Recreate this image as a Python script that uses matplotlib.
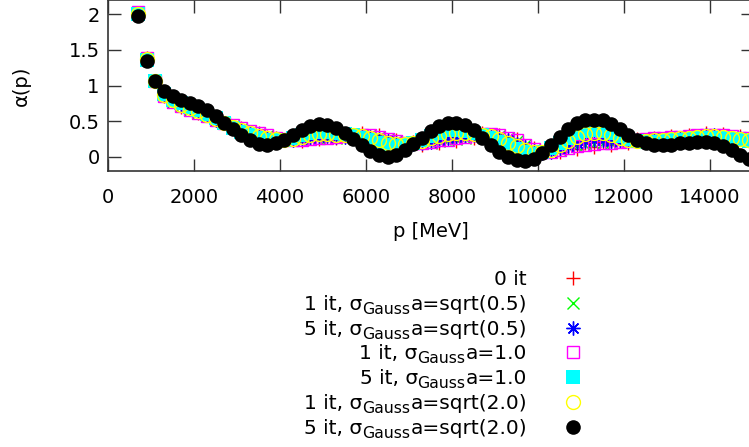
import numpy as np
import matplotlib
matplotlib.use("Agg")
import matplotlib.pyplot as plt
from matplotlib.lines import Line2D

plt.rcParams['font.family'] = ['DejaVu Sans']

# momentum grid [MeV]
p = np.arange(700, 15000, 200)

# alpha(p) for each smoothing variant (12 values per row)
alpha_0it = [2.02, 1.39, 1.06, 0.85, 0.78, 0.70, 0.67, 0.61, 0.58, 0.51, 0.48, 0.42,
             0.40, 0.34, 0.33, 0.28, 0.27, 0.23, 0.24, 0.22, 0.27, 0.25, 0.29, 0.26,
             0.30, 0.28, 0.33, 0.28, 0.30, 0.23, 0.24, 0.18, 0.21, 0.17, 0.22, 0.20,
             0.26, 0.22, 0.29, 0.26, 0.33, 0.28, 0.31, 0.24, 0.25, 0.15, 0.12, 0.05,
             0.08, 0.06, 0.15, 0.11, 0.19, 0.14, 0.21, 0.17, 0.23, 0.19, 0.25, 0.22,
             0.27, 0.24, 0.29, 0.25, 0.31, 0.27, 0.33, 0.28, 0.32, 0.25, 0.29, 0.22]
alpha_1it_s05 = [2.02, 1.38, 1.07, 0.86, 0.77, 0.71, 0.66, 0.62, 0.57, 0.52, 0.47, 0.43,
                 0.39, 0.35, 0.32, 0.29, 0.26, 0.24, 0.23, 0.24, 0.26, 0.27, 0.27, 0.27,
                 0.28, 0.30, 0.31, 0.30, 0.28, 0.25, 0.22, 0.20, 0.19, 0.19, 0.20, 0.22,
                 0.24, 0.25, 0.27, 0.29, 0.31, 0.31, 0.29, 0.26, 0.22, 0.16, 0.10, 0.06,
                 0.07, 0.10, 0.13, 0.15, 0.17, 0.18, 0.19, 0.20, 0.21, 0.22, 0.23, 0.24,
                 0.25, 0.26, 0.27, 0.27, 0.28, 0.29, 0.30, 0.30, 0.29, 0.28, 0.27, 0.25]
alpha_5it_s05 = [2.01, 1.37, 1.07, 0.87, 0.78, 0.72, 0.67, 0.63, 0.58, 0.52, 0.47, 0.42,
                 0.38, 0.34, 0.30, 0.27, 0.25, 0.23, 0.23, 0.25, 0.27, 0.28, 0.29, 0.28,
                 0.28, 0.29, 0.29, 0.28, 0.25, 0.22, 0.20, 0.18, 0.18, 0.19, 0.21, 0.24,
                 0.26, 0.28, 0.29, 0.30, 0.31, 0.30, 0.27, 0.23, 0.18, 0.13, 0.08, 0.05,
                 0.07, 0.11, 0.15, 0.19, 0.22, 0.23, 0.23, 0.22, 0.22, 0.22, 0.23, 0.23,
                 0.24, 0.25, 0.26, 0.27, 0.28, 0.29, 0.30, 0.30, 0.29, 0.28, 0.26, 0.24]
alpha_1it_s1 = [2.03, 1.39, 1.07, 0.85, 0.77, 0.71, 0.66, 0.61, 0.57, 0.52, 0.48, 0.44,
                0.40, 0.36, 0.33, 0.30, 0.27, 0.25, 0.24, 0.24, 0.25, 0.26, 0.27, 0.28,
                0.29, 0.31, 0.31, 0.30, 0.28, 0.25, 0.22, 0.20, 0.19, 0.19, 0.21, 0.23,
                0.24, 0.26, 0.28, 0.30, 0.32, 0.32, 0.30, 0.27, 0.23, 0.17, 0.11, 0.07,
                0.07, 0.09, 0.12, 0.15, 0.17, 0.18, 0.19, 0.20, 0.21, 0.22, 0.23, 0.25,
                0.26, 0.27, 0.28, 0.28, 0.29, 0.30, 0.31, 0.31, 0.30, 0.29, 0.27, 0.26]
alpha_5it_s1 = [2.00, 1.36, 1.07, 0.88, 0.80, 0.75, 0.70, 0.66, 0.60, 0.54, 0.47, 0.41,
                0.35, 0.30, 0.26, 0.24, 0.23, 0.24, 0.26, 0.30, 0.33, 0.35, 0.35, 0.34,
                0.32, 0.30, 0.27, 0.23, 0.19, 0.16, 0.15, 0.16, 0.19, 0.24, 0.29, 0.34,
                0.37, 0.38, 0.36, 0.33, 0.30, 0.26, 0.21, 0.16, 0.11, 0.07, 0.04, 0.06,
                0.12, 0.20, 0.27, 0.33, 0.36, 0.37, 0.36, 0.33, 0.29, 0.25, 0.22, 0.21,
                0.21, 0.22, 0.23, 0.24, 0.25, 0.26, 0.27, 0.27, 0.26, 0.25, 0.24, 0.22]
alpha_1it_s2 = [2.01, 1.37, 1.07, 0.87, 0.79, 0.73, 0.68, 0.64, 0.59, 0.53, 0.47, 0.42,
                0.37, 0.33, 0.29, 0.27, 0.25, 0.24, 0.25, 0.28, 0.30, 0.32, 0.32, 0.31,
                0.31, 0.30, 0.29, 0.26, 0.23, 0.20, 0.18, 0.18, 0.19, 0.22, 0.26, 0.29,
                0.32, 0.33, 0.33, 0.32, 0.31, 0.29, 0.25, 0.20, 0.15, 0.10, 0.06, 0.06,
                0.10, 0.16, 0.22, 0.28, 0.32, 0.34, 0.34, 0.31, 0.27, 0.24, 0.22, 0.22,
                0.23, 0.24, 0.25, 0.26, 0.27, 0.28, 0.29, 0.29, 0.28, 0.27, 0.25, 0.23]
alpha_5it_s2 = [1.97, 1.34, 1.07, 0.92, 0.85, 0.80, 0.76, 0.71, 0.65, 0.57, 0.48, 0.39,
                0.30, 0.23, 0.18, 0.17, 0.19, 0.24, 0.30, 0.37, 0.43, 0.46, 0.45, 0.41,
                0.34, 0.25, 0.16, 0.08, 0.02, 0.00, 0.03, 0.10, 0.18, 0.27, 0.36, 0.43,
                0.47, 0.48, 0.44, 0.37, 0.27, 0.16, 0.06, -0.01, -0.05, -0.06, -0.03, 0.05,
                0.16, 0.28, 0.39, 0.47, 0.51, 0.52, 0.51, 0.46, 0.39, 0.31, 0.24, 0.19,
                0.16, 0.16, 0.17, 0.19, 0.20, 0.21, 0.21, 0.19, 0.15, 0.09, 0.03, -0.03]

# key labels split as (before subscript, subscript, after subscript)
labels = [('0 it', '', ''),
          ('1 it, σ', 'Gauss', 'a=sqrt(0.5)'),
          ('5 it, σ', 'Gauss', 'a=sqrt(0.5)'),
          ('1 it, σ', 'Gauss', 'a=1.0'),
          ('5 it, σ', 'Gauss', 'a=1.0'),
          ('1 it, σ', 'Gauss', 'a=sqrt(2.0)'),
          ('5 it, σ', 'Gauss', 'a=sqrt(2.0)')]
series = [alpha_0it, alpha_1it_s05, alpha_5it_s05, alpha_1it_s1,
          alpha_5it_s1, alpha_1it_s2, alpha_5it_s2]

# gnuplot-like point styles
styles = [
    dict(marker='+', color='red', ms=10, mew=1.0),
    dict(marker='x', color='#00ff00', ms=9, mew=1.0),
    dict(marker=(8, 2, 0), color='blue', ms=10, mew=1.0),
    dict(marker='s', color='magenta', mfc='none', ms=9, mew=1.0),
    dict(marker='s', color='cyan', ms=9.5, mew=0),
    dict(marker='o', color='yellow', mfc='none', ms=10, mew=1.0),
    dict(marker='o', color='black', ms=10.5, mew=0),
]

FS = 14
KEY_FS = 14.5
W, H = 749, 447
fig = plt.figure(figsize=(W / 100, H / 100), dpi=100)
ax = fig.add_axes([108 / W, 1 - 171 / H, 645 / W, 171 / H])

for y, st in zip(series, styles):
    ax.plot(p, y, ls='none', **st)

ax.set_xlim(0, 15000)
ax.set_ylim(-0.2, 2.2)
ax.set_xticks(np.arange(0, 15000, 2000))
ax.set_yticks([0, 0.5, 1, 1.5, 2])
ax.set_yticklabels(['0', '0.5', '1', '1.5', '2'])
ax.tick_params(direction='in', length=9, width=1, top=True, right=True,
               labelsize=FS, pad=6, color='#333333')
ax.tick_params(axis='x', pad=12)
for s in ax.spines.values():
    s.set_linewidth(1.2)
    s.set_color('#333333')
ax.set_xlabel('p [MeV]', fontsize=FS, labelpad=11)
ax.set_ylabel('α(p)', fontsize=FS, labelpad=27)

# key: right-justified text, sample to the right
renderer = fig.canvas.get_renderer()
for i, ((pre, subtxt, post), st) in enumerate(zip(labels, styles)):
    yrow = 278 + 24.8 * i
    base = 1 - (yrow + 7) / H
    xr = 527
    if post:
        t = fig.text(xr / W, base, post, ha='right', va='baseline', fontsize=KEY_FS)
        xr = t.get_window_extent(renderer).x0
    if subtxt:
        t = fig.text(xr / W, base - 4 / H, subtxt, ha='right', va='baseline',
                     fontsize=11.3)
        xr = t.get_window_extent(renderer).x0
    fig.text(xr / W, base, pre, ha='right', va='baseline', fontsize=KEY_FS)
    fig.add_artist(Line2D([573 / W], [1 - yrow / H], transform=fig.transFigure,
                          ls='none', **st))

fig.savefig('out.png', dpi=100)
